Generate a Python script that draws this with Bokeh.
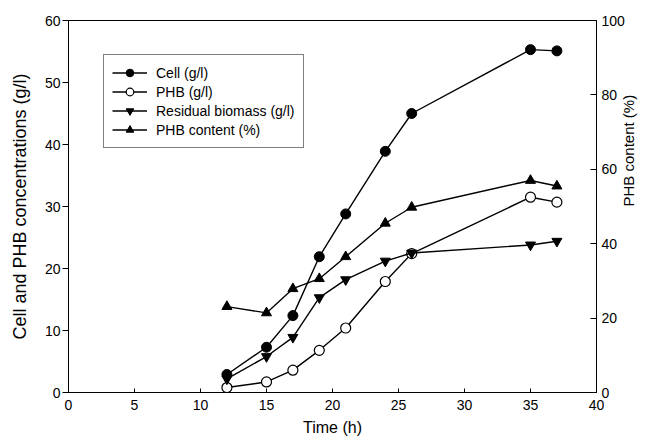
import math
from bokeh.plotting import figure
from bokeh.models import Range1d, LinearAxis, FixedTicker, Legend, LegendItem
from bokeh.embed import file_html
from bokeh.resources import INLINE

# Data
time_h = [12, 15, 17, 19, 21, 24, 26, 35, 37]
cell = [2.9, 7.3, 12.4, 21.9, 28.8, 38.9, 45.0, 55.3, 55.1]
phb = [0.8, 1.7, 3.6, 6.8, 10.4, 17.9, 22.4, 31.5, 30.7]
residual = [2.2, 5.8, 8.9, 15.3, 18.2, 21.2, 22.5, 23.8, 24.4]
phb_content = [23.1, 21.4, 27.9, 30.6, 36.5, 45.5, 49.8, 57.0, 55.5]

x_ticks = [0, 5, 10, 15, 20, 25, 30, 35, 40]
left_ticks = [0, 10, 20, 30, 40, 50, 60]
right_ticks = [0, 20, 40, 60, 80, 100]

FONT = "Liberation Sans"

p = figure(width=648, height=440, x_range=Range1d(0, 40), y_range=Range1d(0, 60),
           output_backend="svg", toolbar_location=None,
           min_border_left=68, min_border_right=50, min_border_top=20, min_border_bottom=48)
p.extra_y_ranges = {"pct": Range1d(0, 100)}

p.xgrid.visible = False
p.ygrid.visible = False
p.outline_line_color = "black"
p.outline_line_width = 1
p.background_fill_color = "white"
p.border_fill_color = "white"

def style_axis(ax, tick_in, tick_out, label_standoff, axis_label_standoff, label_size):
    ax.axis_line_color = "black"
    ax.major_tick_line_color = "black"
    ax.minor_tick_line_color = None
    ax.major_tick_in = tick_in
    ax.major_tick_out = tick_out
    ax.major_label_text_font = FONT
    ax.major_label_text_font_size = "14px"
    ax.major_label_text_color = "black"
    ax.major_label_standoff = label_standoff
    ax.axis_label_text_font = FONT
    ax.axis_label_text_font_size = label_size
    ax.axis_label_text_font_style = "normal"
    ax.axis_label_text_color = "black"
    ax.axis_label_standoff = axis_label_standoff

xa = p.xaxis[0]
xa.ticker = FixedTicker(ticks=x_ticks)
xa.axis_label = "Time (h)"
style_axis(xa, 4, 0, 7, 6, "16px")

ya = p.yaxis[0]
ya.ticker = FixedTicker(ticks=left_ticks)
ya.axis_label = "Cell and PHB concentrations (g/l)"
style_axis(ya, 0, 6, 2, 12, "18px")

ra = LinearAxis(y_range_name="pct", ticker=FixedTicker(ticks=right_ticks),
                axis_label="PHB content (%)")
style_axis(ra, 6, 0, 5, 1, "15px")
ra.axis_label_orientation = math.pi / 2
p.add_layout(ra, "right")

lw = 1.4
l1 = p.line(time_h, cell, line_color="black", line_width=lw)
m1 = p.scatter(time_h, cell, marker="circle", size=10, fill_color="black", line_color="black")
l2 = p.line(time_h, phb, line_color="black", line_width=lw)
m2 = p.scatter(time_h, phb, marker="circle", size=10, fill_color="white", line_color="black", line_width=1.2)
l3 = p.line(time_h, residual, line_color="black", line_width=lw)
m3 = p.scatter(time_h, residual, marker="inverted_triangle", size=10, fill_color="black", line_color="black")
l4 = p.line(time_h, phb_content, line_color="black", line_width=lw, y_range_name="pct")
m4 = p.scatter(time_h, phb_content, marker="triangle", size=10, fill_color="black", line_color="black",
               y_range_name="pct")

legend = Legend(items=[
    LegendItem(label="Cell (g/l)", renderers=[l1, m1]),
    LegendItem(label="PHB (g/l)", renderers=[l2, m2]),
    LegendItem(label="Residual biomass (g/l)", renderers=[l3, m3]),
    LegendItem(label="PHB content (%)", renderers=[l4, m4]),
], location=(35, 244))
legend.border_line_color = "black"
legend.border_line_width = 1
legend.background_fill_color = "white"
legend.background_fill_alpha = 1
legend.padding = 8
legend.spacing = 0
legend.margin = 0
legend.glyph_width = 35
legend.glyph_height = 19
legend.label_height = 19
legend.label_standoff = 9
legend.label_text_font = FONT
legend.label_text_font_size = "14px"
legend.label_text_color = "black"
p.add_layout(legend)

open("out.html", "w").write(file_html(p, INLINE))
